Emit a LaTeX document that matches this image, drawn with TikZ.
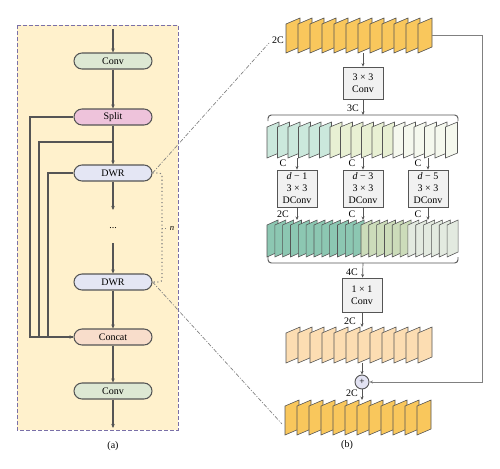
\documentclass[tikz,border=0pt]{standalone}
\usepackage{fontspec}
\setmainfont{Liberation Serif}
\usetikzlibrary{arrows.meta}
\definecolor{panelbg}{HTML}{FFF1CC}
\definecolor{panelbd}{HTML}{7A70A8}
\definecolor{convc}{HTML}{DDE8D3}
\definecolor{splitc}{HTML}{EEC3DB}
\definecolor{dwrc}{HTML}{E4E6F4}
\definecolor{concatc}{HTML}{F8DDCB}
\definecolor{boxc}{HTML}{F1F1F1}
\definecolor{gold}{HTML}{F9C75C}
\definecolor{peach}{HTML}{FCDDB2}
\definecolor{tealA}{HTML}{CBE8DC}
\definecolor{ygA}{HTML}{E8F0D3}
\definecolor{paleA}{HTML}{F5F8EE}
\definecolor{tealB}{HTML}{8CC7B2}
\definecolor{ygB}{HTML}{CCDCBA}
\definecolor{paleB}{HTML}{E3EAE0}
\definecolor{linec}{HTML}{555555}
\definecolor{plusc}{HTML}{E2E2F2}
\newcommand\fsheet[6]{\filldraw[sheetst, fill=#6] ({#1},{#2+#5}) -- ({#1+#3},{#2}) -- ({#1+#3},{#2+#4-#5}) -- ({#1},{#2+#4}) -- cycle;}
\tikzset{
  sheetst/.style={draw=linec, line width=0.45pt},
  blk/.style={draw=linec, line width=0.8pt, rounded corners=6pt, minimum width=58.5pt, minimum height=12pt, inner sep=0pt, font=\fontsize{7.5}{9}\selectfont},
  opbox/.style={draw=linec, line width=0.6pt, fill=boxc, minimum width=30pt, inner sep=0pt, align=center, font=\fontsize{7.5}{9}\selectfont},
  conn/.style={draw=linec, line width=0.8pt, -{Stealth[length=3pt,width=2.6pt]}},
  thin/.style={draw=linec, line width=0.5pt, -{Stealth[length=2.6pt,width=2.2pt]}},
  plain/.style={draw=linec, line width=0.8pt},
  lbl/.style={font=\fontsize{7.5}{9}\selectfont, inner sep=0pt},
  ddash/.style={draw=gray, line width=0.5pt, dash pattern=on 3pt off 1.2pt on 0.8pt off 1.2pt},
}
\begin{document}
\begin{tikzpicture}[x=0.75pt,y=-0.75pt]
\useasboundingbox (0,0) rectangle (500,468);
% ---------- panel (a) ----------
\draw[fill=panelbg, draw=panelbd, line width=0.7pt, dash pattern=on 3pt off 1.5pt] (17,25) rectangle (178,430);
\node[blk, fill=convc] (conv1) at (113,61) {Conv};
\node[blk, fill=splitc] (split) at (113,117) {Split};
\node[blk, fill=dwrc] (dwr1) at (113,173) {DWR};
\node[lbl] (dots) at (113,228) {...};
\node[blk, fill=dwrc] (dwr2) at (113,282) {DWR};
\node[blk, fill=concatc] (concat) at (113,337) {Concat};
\node[blk, fill=convc] (conv2) at (113,391) {Conv};
\coordinate (ain) at (113,29);
\coordinate (aout) at (113,428);
\coordinate (d1end) at (113,210);
\coordinate (d2start) at (113,243);
\coordinate (tap) at (113,142);
\draw[conn] (ain) -- (conv1);
\draw[conn] (conv1) -- (split);
\draw[conn] (split) -- (dwr1);
\draw[conn] (dwr1) -- (d1end);
\draw[conn] (d2start) -- (dwr2);
\draw[conn] (dwr2) -- (concat);
\draw[conn] (concat) -- (conv2);
\draw[conn] (conv2) -- (aout);
\draw[plain] (split.west) -- (30,117) |- (concat.west);
\draw[plain] (tap) -- (39,142) |- (concat.west);
\draw[conn] (dwr1.west) -- (48,173) |- (concat.west);
\draw[draw=gray, line width=0.8pt, dotted, rounded corners=2pt] (dwr1.east) -- (162,173) -- (162,282) -- (dwr2.east);
\draw[draw=gray, line width=0.6pt, dotted] (162,228) -- (166,228);
\node[lbl, font=\fontsize{6.5}{8}\selectfont\itshape] (nlab) at (172,228) {n};
\node[lbl] (capa) at (113,446) {(a)};
% ---------- panel (b) ----------
% top stack
\foreach \i in {0,...,11}{\pgfmathsetmacro\xx{286+12*\i}\fsheet{\xx}{18}{14}{35}{6}{gold}}
\coordinate (s1b) at (363,53);
\coordinate (s1r) at (432,35);
\node[lbl] (l2c) at (278,40) {2C};
\draw[ddash] (dwr1.east) -- (269,43);
\node[opbox, minimum height=24pt] (c33) at (363,83) {3 × 3\\Conv};
\draw[thin] (s1b) -- (c33);
\coordinate (br1) at (363,115);
\draw[thin] (c33) -- (br1);
\node[lbl] (l3c) at (353,108) {3C};
\draw[linec, line width=0.7pt, rounded corners=2.5pt] (268,121) -- (268,115) -- (458,115) -- (458,121);
% 3C stack
\foreach \i in {0,...,5}{\pgfmathsetmacro\xx{267+10.5*\i}\fsheet{\xx}{122}{12}{36}{5}{tealA}}
\foreach \i in {6,...,11}{\pgfmathsetmacro\xx{267+10.5*\i}\fsheet{\xx}{122}{12}{36}{5}{ygA}}
\foreach \i in {12,...,17}{\pgfmathsetmacro\xx{267+10.5*\i}\fsheet{\xx}{122}{12}{36}{5}{paleA}}
% DConv boxes
\node[opbox, minimum height=27.75pt] (dc1) at (297,188.5) {\textit{d} − 1\\3 × 3\\DConv};
\node[opbox, minimum height=27.75pt] (dc2) at (363,188.5) {\textit{d} − 3\\3 × 3\\DConv};
\node[opbox, minimum height=27.75pt] (dc3) at (428,188.5) {\textit{d} − 5\\3 × 3\\DConv};
\coordinate (t1) at (297,158); \coordinate (t2) at (363,158); \coordinate (t3) at (428,158);
\draw[thin] (t1) -- (dc1); \draw[thin] (t2) -- (dc2); \draw[thin] (t3) -- (dc3);
\node[lbl] (c1a) at (283,163) {C};
\node[lbl] (c2a) at (352,163) {C};
\node[lbl] (c3a) at (418,163) {C};
\coordinate (b1) at (297,220); \coordinate (b2) at (363,220); \coordinate (b3) at (428,220);
\draw[thin] (dc1) -- (b1); \draw[thin] (dc2) -- (b2); \draw[thin] (dc3) -- (b3);
\node[lbl] (c1b) at (283,214) {2C};
\node[lbl] (c2b) at (352,214) {C};
\node[lbl] (c3b) at (418,214) {C};
% 4C stack
\foreach \i in {0,...,11}{\pgfmathsetmacro\xx{267+7.83*\i}\fsheet{\xx}{220}{11}{37}{5}{tealB}}
\foreach \i in {12,...,17}{\pgfmathsetmacro\xx{267+7.83*\i}\fsheet{\xx}{220}{11}{37}{5}{ygB}}
\foreach \i in {18,...,23}{\pgfmathsetmacro\xx{267+7.83*\i}\fsheet{\xx}{220}{11}{37}{5}{paleB}}
\draw[linec, line width=0.7pt, rounded corners=2.5pt] (268,257) -- (268,263) -- (458,263) -- (458,257);
\coordinate (br2) at (363,263);
\node[opbox, minimum height=25.5pt] (c11) at (362,295) {1 × 1\\Conv};
\draw[thin] (br2) -- (c11);
\node[lbl] (l4c) at (352,272) {4C};
\coordinate (s4t) at (362,327);
\draw[thin] (c11) -- (s4t);
\node[lbl] (l2cb) at (350,321) {2C};
\foreach \i in {0,...,11}{\pgfmathsetmacro\xx{286+12*\i}\fsheet{\xx}{327}{14}{36}{6}{peach}}
\node[circle, draw=linec, fill=plusc, line width=0.7pt, minimum size=10.5pt, inner sep=0pt, font=\fontsize{7}{8}\selectfont] (plus) at (362,382) {+};
\coordinate (s4b) at (362,363);
\draw[thin] (s4b) -- (plus);
\coordinate (s5t) at (362,400);
\draw[thin] (plus) -- (s5t);
\node[lbl] (l2cc) at (352,393) {2C};
\draw[draw=gray, line width=0.7pt, -{Stealth[length=2.6pt,width=2.2pt]}] (s1r) -- (482,35) |- (plus.east);
\foreach \i in {0,...,11}{\pgfmathsetmacro\xx{285+12*\i}\fsheet{\xx}{400}{14}{35}{6}{gold}}
\draw[ddash] (dwr2.east) -- (282,424);
\node[lbl] (capb) at (347,445) {(b)};
\end{tikzpicture}
\end{document}
